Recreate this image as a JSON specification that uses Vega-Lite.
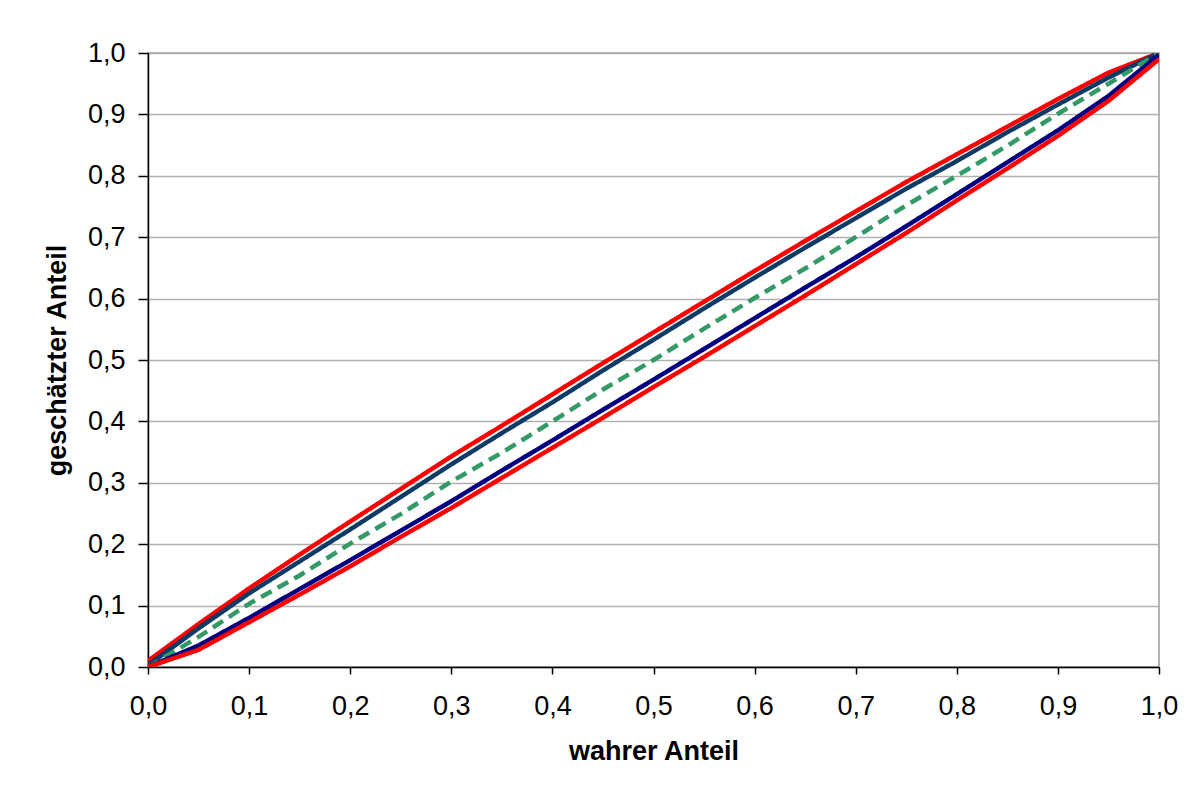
{
  "$schema": "https://vega.github.io/schema/vega-lite/v6.json",
  "autosize": "none",
  "width": 1011,
  "height": 614,
  "padding": {"left": 148, "top": 53, "right": 27, "bottom": 127},
  "background": "white",
  "config": {
    "view": {"stroke": "#9a9a9a", "strokeWidth": 1.5},
    "font": "Liberation Sans",
    "axis": {
      "labelFont": "Liberation Sans",
      "titleFont": "Liberation Sans",
      "labelFontSize": 27,
      "titleFontSize": 27,
      "titleFontWeight": "bold",
      "labelColor": "black",
      "titleColor": "black",
      "domainColor": "black",
      "domainWidth": 1.5,
      "tickColor": "black",
      "tickWidth": 1.5
    }
  },
  "data": {
    "values": [
      {"x": 0.0, "y": 0.010, "s": "A"}, {"x": 0.05, "y": 0.070, "s": "A"}, {"x": 0.1, "y": 0.128, "s": "A"}, {"x": 0.15, "y": 0.183, "s": "A"}, {"x": 0.2, "y": 0.237, "s": "A"}, {"x": 0.25, "y": 0.290, "s": "A"}, {"x": 0.3, "y": 0.343, "s": "A"}, {"x": 0.35, "y": 0.393, "s": "A"}, {"x": 0.4, "y": 0.444, "s": "A"}, {"x": 0.45, "y": 0.495, "s": "A"}, {"x": 0.5, "y": 0.545, "s": "A"}, {"x": 0.55, "y": 0.595, "s": "A"}, {"x": 0.6, "y": 0.645, "s": "A"}, {"x": 0.65, "y": 0.694, "s": "A"}, {"x": 0.7, "y": 0.742, "s": "A"}, {"x": 0.75, "y": 0.790, "s": "A"}, {"x": 0.8, "y": 0.835, "s": "A"}, {"x": 0.85, "y": 0.880, "s": "A"}, {"x": 0.9, "y": 0.925, "s": "A"}, {"x": 0.95, "y": 0.968, "s": "A"}, {"x": 1.0, "y": 1.0, "s": "A"},
      {"x": 0.0, "y": 0.003, "s": "B"}, {"x": 0.05, "y": 0.063, "s": "B"}, {"x": 0.1, "y": 0.120, "s": "B"}, {"x": 0.15, "y": 0.172, "s": "B"}, {"x": 0.2, "y": 0.224, "s": "B"}, {"x": 0.25, "y": 0.277, "s": "B"}, {"x": 0.3, "y": 0.330, "s": "B"}, {"x": 0.35, "y": 0.381, "s": "B"}, {"x": 0.4, "y": 0.431, "s": "B"}, {"x": 0.45, "y": 0.483, "s": "B"}, {"x": 0.5, "y": 0.533, "s": "B"}, {"x": 0.55, "y": 0.584, "s": "B"}, {"x": 0.6, "y": 0.634, "s": "B"}, {"x": 0.65, "y": 0.683, "s": "B"}, {"x": 0.7, "y": 0.731, "s": "B"}, {"x": 0.75, "y": 0.779, "s": "B"}, {"x": 0.8, "y": 0.824, "s": "B"}, {"x": 0.85, "y": 0.871, "s": "B"}, {"x": 0.9, "y": 0.916, "s": "B"}, {"x": 0.95, "y": 0.960, "s": "B"}, {"x": 1.0, "y": 1.0, "s": "B"},
      {"x": 0.0, "y": 0.0, "s": "C"}, {"x": 0.05, "y": 0.049, "s": "C"}, {"x": 0.1, "y": 0.103, "s": "C"}, {"x": 0.15, "y": 0.149, "s": "C"}, {"x": 0.2, "y": 0.201, "s": "C"}, {"x": 0.25, "y": 0.249, "s": "C"}, {"x": 0.3, "y": 0.302, "s": "C"}, {"x": 0.35, "y": 0.349, "s": "C"}, {"x": 0.4, "y": 0.400, "s": "C"}, {"x": 0.45, "y": 0.452, "s": "C"}, {"x": 0.5, "y": 0.500, "s": "C"}, {"x": 0.55, "y": 0.551, "s": "C"}, {"x": 0.6, "y": 0.601, "s": "C"}, {"x": 0.65, "y": 0.649, "s": "C"}, {"x": 0.7, "y": 0.700, "s": "C"}, {"x": 0.75, "y": 0.752, "s": "C"}, {"x": 0.8, "y": 0.800, "s": "C"}, {"x": 0.85, "y": 0.849, "s": "C"}, {"x": 0.9, "y": 0.901, "s": "C"}, {"x": 0.95, "y": 0.950, "s": "C"}, {"x": 1.0, "y": 1.0, "s": "C"},
      {"x": 0.0, "y": 0.0, "s": "D"}, {"x": 0.05, "y": 0.035, "s": "D"}, {"x": 0.1, "y": 0.080, "s": "D"}, {"x": 0.15, "y": 0.127, "s": "D"}, {"x": 0.2, "y": 0.174, "s": "D"}, {"x": 0.25, "y": 0.222, "s": "D"}, {"x": 0.3, "y": 0.270, "s": "D"}, {"x": 0.35, "y": 0.320, "s": "D"}, {"x": 0.4, "y": 0.369, "s": "D"}, {"x": 0.45, "y": 0.419, "s": "D"}, {"x": 0.5, "y": 0.468, "s": "D"}, {"x": 0.55, "y": 0.518, "s": "D"}, {"x": 0.6, "y": 0.568, "s": "D"}, {"x": 0.65, "y": 0.618, "s": "D"}, {"x": 0.7, "y": 0.667, "s": "D"}, {"x": 0.75, "y": 0.718, "s": "D"}, {"x": 0.8, "y": 0.770, "s": "D"}, {"x": 0.85, "y": 0.822, "s": "D"}, {"x": 0.9, "y": 0.874, "s": "D"}, {"x": 0.95, "y": 0.930, "s": "D"}, {"x": 1.0, "y": 0.997, "s": "D"},
      {"x": 0.0, "y": 0.0, "s": "E"}, {"x": 0.05, "y": 0.028, "s": "E"}, {"x": 0.1, "y": 0.073, "s": "E"}, {"x": 0.15, "y": 0.118, "s": "E"}, {"x": 0.2, "y": 0.164, "s": "E"}, {"x": 0.25, "y": 0.212, "s": "E"}, {"x": 0.3, "y": 0.259, "s": "E"}, {"x": 0.35, "y": 0.308, "s": "E"}, {"x": 0.4, "y": 0.357, "s": "E"}, {"x": 0.45, "y": 0.406, "s": "E"}, {"x": 0.5, "y": 0.456, "s": "E"}, {"x": 0.55, "y": 0.505, "s": "E"}, {"x": 0.6, "y": 0.555, "s": "E"}, {"x": 0.65, "y": 0.605, "s": "E"}, {"x": 0.7, "y": 0.656, "s": "E"}, {"x": 0.75, "y": 0.707, "s": "E"}, {"x": 0.8, "y": 0.760, "s": "E"}, {"x": 0.85, "y": 0.812, "s": "E"}, {"x": 0.9, "y": 0.865, "s": "E"}, {"x": 0.95, "y": 0.922, "s": "E"}, {"x": 1.0, "y": 0.990, "s": "E"}
    ]
  },
  "mark": {"type": "line", "clip": true, "strokeCap": "butt", "strokeJoin": "round"},
  "encoding": {
    "x": {
      "field": "x", "type": "quantitative",
      "scale": {"domain": [0, 1], "nice": false, "zero": false},
      "axis": {
        "title": "wahrer Anteil",
        "values": [0, 0.1, 0.2, 0.3, 0.4, 0.5, 0.6, 0.7, 0.8, 0.9, 1.0],
        "labelExpr": "replace(format(datum.value, '.1f'), '.', ',')",
        "grid": false,
        "tickSize": 7,
        "labelPadding": 19,
        "titlePadding": 19,
        "labelFlush": false
      }
    },
    "y": {
      "field": "y", "type": "quantitative",
      "scale": {"domain": [0, 1], "nice": false, "zero": false},
      "axis": {
        "title": "geschätzter Anteil",
        "values": [0, 0.1, 0.2, 0.3, 0.4, 0.5, 0.6, 0.7, 0.8, 0.9, 1.0],
        "labelExpr": "replace(format(datum.value, '.1f'), '.', ',')",
        "grid": true,
        "gridColor": "#b0b0b0",
        "gridWidth": 1.5,
        "tickSize": 10,
        "labelPadding": 13,
        "titlePadding": 16,
        "labelFlush": false
      }
    },
    "color": {
      "field": "s", "type": "nominal", "legend": null,
      "scale": {"domain": ["A", "B", "C", "D", "E"], "range": ["#ff0000", "#0d3b66", "#339966", "#000080", "#ff0000"]}
    },
    "strokeDash": {
      "field": "s", "type": "nominal", "legend": null,
      "scale": {"domain": ["A", "B", "C", "D", "E"], "range": [[1, 0], [1, 0], [12, 7], [1, 0], [1, 0]]}
    },
    "strokeWidth": {
      "field": "s", "type": "nominal", "legend": null,
      "scale": {"domain": ["A", "B", "C", "D", "E"], "range": [4.5, 4.5, 2.2, 4.5, 4.5]}
    },
    "order": {"field": "x", "type": "quantitative"}
  }
}
